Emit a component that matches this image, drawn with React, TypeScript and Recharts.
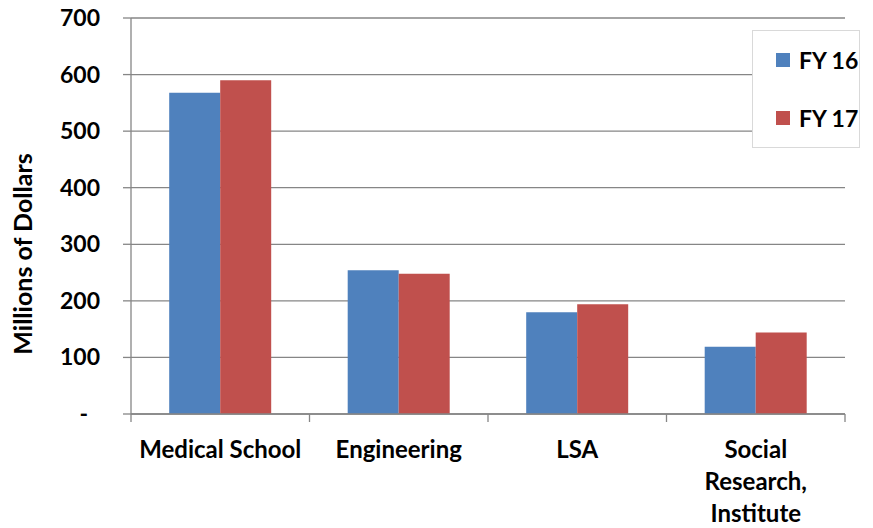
import React from 'react';
import { BarChart, Bar, XAxis, YAxis, CartesianGrid, Legend, Label } from 'recharts';

const categories = ['Medical School', 'Engineering', 'LSA', 'Social\nResearch,\nInstitute'];
const fy16 = [568, 254, 180, 119];
const fy17 = [590, 248, 194, 144];
const yTicks = [0, 100, 200, 300, 400, 500, 600, 700];
const seriesNames = ['FY 16', 'FY 17'];
const seriesColors = ['#4F81BD', '#C0504D'];

const data = categories.map((name, i) => ({ name, fy16: fy16[i], fy17: fy17[i] }));

const FONT = 'Lato, "Open Sans", sans-serif';
const W = 873;
const H = 528;
const margin = { top: 18, right: 28, left: 0, bottom: 0 };
const Y_AXIS_W = 131;
const X_AXIS_H = 114;
const band = (W - margin.left - margin.right - Y_AXIS_W) / categories.length;
const AXIS = '#868686';

const XTick = (props: any) => {
  const { x, y, payload, index } = props;
  const lines = String(payload.value).split('\n');
  return (
    <g>
      <line x1={x - band / 2} y1={y} x2={x - band / 2} y2={y + 8} stroke={AXIS} strokeWidth={1.3} />
      {index === categories.length - 1 && (
        <line x1={x + band / 2} y1={y} x2={x + band / 2} y2={y + 8} stroke={AXIS} strokeWidth={1.3} />
      )}
      {lines.map((l, i) => (
        <text key={i} x={x} y={y + 44 + i * 32} textAnchor="middle" fontFamily={FONT} fontWeight="bold" fontSize={24} fill="#000">
          {l}
        </text>
      ))}
    </g>
  );
};

const YTick = (props: any) => {
  const { x, y, payload } = props;
  const zero = payload.value === 0;
  return (
    <text x={zero ? x - 12 : x} y={y + 8} textAnchor="end" fontFamily={FONT} fontWeight="bold" fontSize={23} fill="#000">
      {zero ? '-' : payload.value}
    </text>
  );
};

const renderLegend = (props: any) => {
  const { payload } = props;
  return (
    <div style={{ width: 108, height: 118, boxSizing: 'border-box', border: '1px solid #d9d9d9', background: '#fff', position: 'relative', fontFamily: FONT }}>
      {payload.map((p: any, i: number) => (
        <div key={i} style={{ position: 'absolute', left: 23, top: 15 + i * 58, display: 'flex', alignItems: 'center' }}>
          <span style={{ display: 'inline-block', width: 14, height: 14, background: p.color, marginRight: 9 }} />
          <span style={{ fontWeight: 'bold', fontSize: 23, color: '#000', lineHeight: '28px' }}>{p.value}</span>
        </div>
      ))}
    </div>
  );
};

export default function App() {
  return (
    <div style={{ position: 'absolute', left: 0, top: 0, width: W, height: H, background: '#fff' }}>
      <BarChart width={W} height={H} data={data} margin={margin} barGap={0} barCategoryGap="21.4%">
        <CartesianGrid vertical={false} stroke={AXIS} strokeWidth={1.3} />
        <XAxis
          dataKey="name"
          height={X_AXIS_H}
          interval={0}
          axisLine={{ stroke: AXIS, strokeWidth: 1.3 }}
          tickLine={false}
          tickSize={0}
          tickMargin={0}
          tick={<XTick />}
        />
        <YAxis
          width={Y_AXIS_W}
          domain={[0, 700]}
          ticks={yTicks}
          interval={0}
          axisLine={{ stroke: AXIS, strokeWidth: 1.3 }}
          tickLine={{ stroke: AXIS, strokeWidth: 1.3 }}
          tickSize={8}
          tickMargin={23}
          tick={<YTick />}
        >
          <Label
            content={() => (
              <text transform="translate(22,254) rotate(-90)" textAnchor="middle" dominantBaseline="central" fontFamily={FONT} fontWeight="bold" fontSize={25} fill="#000">
                Millions of Dollars
              </text>
            )}
          />
        </YAxis>
        <Legend
          layout="horizontal"
          verticalAlign="middle"
          align="center"
          content={renderLegend}
          wrapperStyle={{ left: 752, top: 30, width: 108, height: 118 }}
        />
        <Bar dataKey="fy16" name={seriesNames[0]} fill={seriesColors[0]} isAnimationActive={false} />
        <Bar dataKey="fy17" name={seriesNames[1]} fill={seriesColors[1]} isAnimationActive={false} />
      </BarChart>
    </div>
  );
}
